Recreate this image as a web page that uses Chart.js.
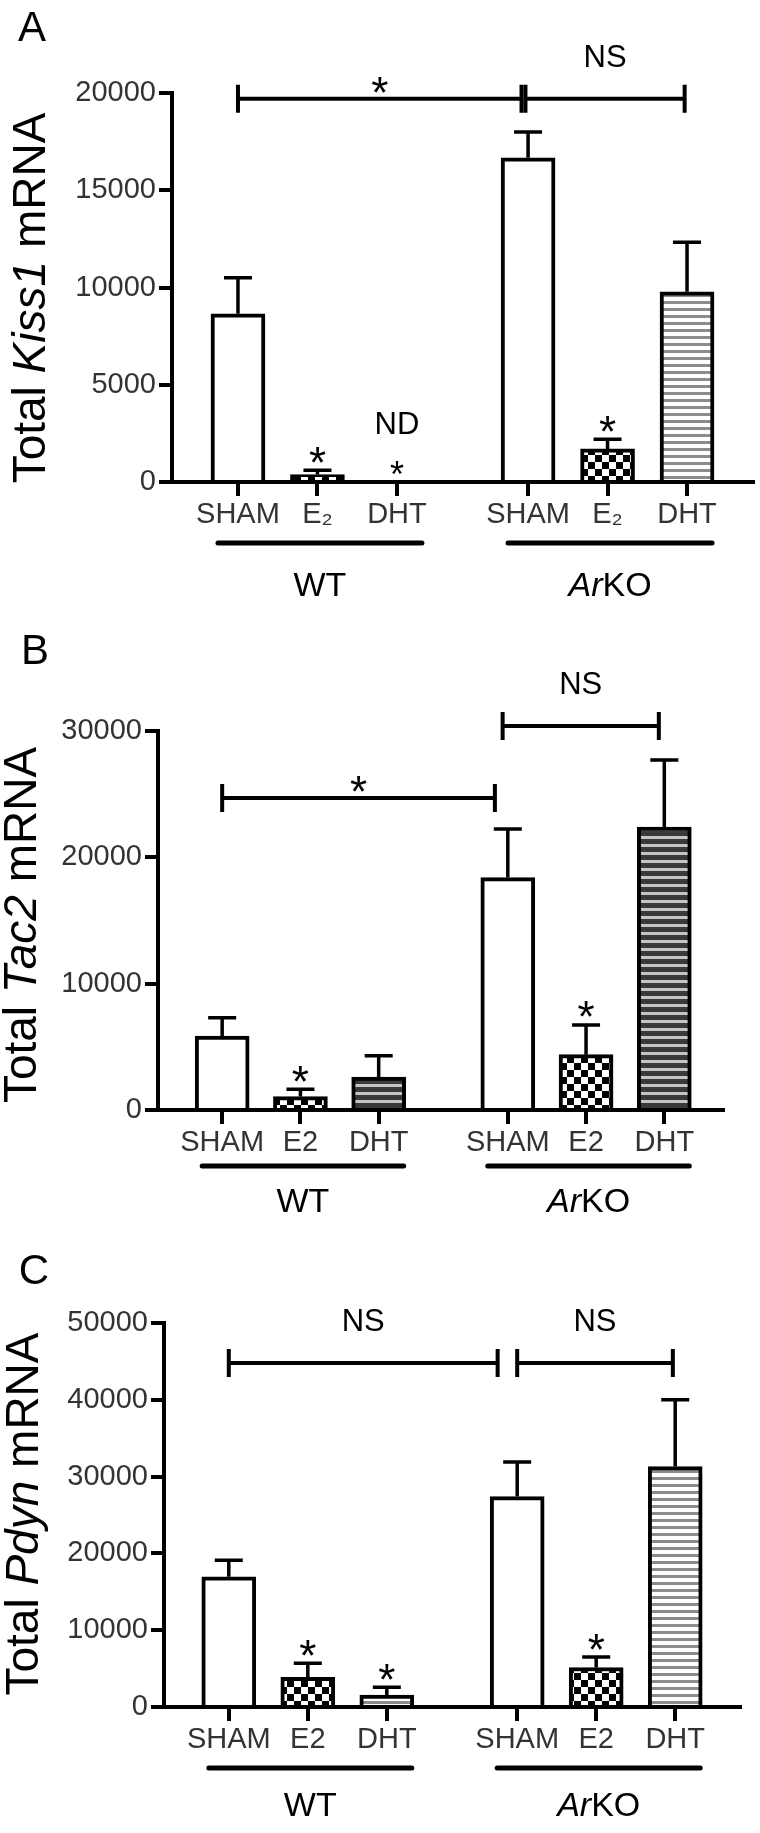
<!DOCTYPE html>
<html lang="en">
<head>
<meta charset="UTF-8">
<title>Total Kiss1, Tac2 and Pdyn mRNA</title>
<script src="https://cdn.jsdelivr.net/npm/chart.js@4.4.0/dist/chart.umd.min.js"></script>
<style>
  body { margin: 0; background: #fff; }
  .panel { position: absolute; left: 0; width: 760px; }
  canvas { display: block; }
</style>
</head>
<body>
<div class="panel" style="top:0"><canvas id="chartA" width="760" height="615"></canvas></div>
<div class="panel" style="top:615px"><canvas id="chartB" width="760" height="610"></canvas></div>
<div class="panel" style="top:1225px"><canvas id="chartC" width="760" height="608"></canvas></div>
<script>
// ---- data ----
const treatments = ['SHAM', 'E2', 'DHT'];
const treatmentsA = ['SHAM', 'E₂', 'DHT'];
const genotypes = ['WT', 'ArKO'];

// bars: WT SHAM, WT E2, WT DHT, ArKO SHAM, ArKO E2, ArKO DHT
const kiss1Mean = [8650, 380, null, 16670, 1700, 9780];
const kiss1Sem  = [1850, 220, null, 1330, 500, 2550];
const tac2Mean  = [5850, 1060, 2600, 18400, 4380, 22400];
const tac2Sem   = [1450, 580, 1700, 3850, 2350, 5300];
const pdynMean  = [16960, 3850, 1540, 27400, 5140, 31300];
const pdynSem   = [2140, 1850, 1030, 4500, 1360, 8700];

const kiss1Ticks = [0, 5000, 10000, 15000, 20000];
const tac2Ticks  = [0, 10000, 20000, 30000];
const pdynTicks  = [0, 10000, 20000, 30000, 40000, 50000];

// significance marks over bars
const kiss1Stars = ['', '*', '*', '', '*', ''];
const tac2Stars  = ['', '*', '', '', '*', ''];
const pdynStars  = ['', '*', '*', '', '*', ''];

// comparison brackets: from bar, to bar, height, label
const kiss1Brackets = [[0, 2.95, 19700, '*'], [2.98, 4.97, 19700, 'NS']];
const tac2Brackets  = [[0, 2.90, 24700, '*'], [2.96, 4.93, 30400, 'NS']];
const pdynBrackets  = [[0, 2.85, 44800, 'NS'], [3.0, 4.97, 44800, 'NS']];

// ---- drawing ----
const SANS = '"Liberation Sans", Arial, sans-serif';

// bar index -> x value (gap between the two genotype groups)
function slot(i) {
    if (i <= 2) return i;
    if (i >= 3) return i + 0.65;
    return 2 + (i - 2) * 1.65;
}

function checker(cell) {
    const c = document.createElement('canvas');
    c.width = c.height = cell * 2;
    const g = c.getContext('2d');
    g.fillStyle = '#fff';
    g.fillRect(0, 0, cell * 2, cell * 2);
    g.fillStyle = '#000';
    g.fillRect(0, 0, cell, cell);
    g.fillRect(cell, cell, cell, cell);
    return g.createPattern(c, 'repeat');
}

function stripes(period, line, bg, fg) {
    const c = document.createElement('canvas');
    c.width = 8; c.height = period;
    const g = c.getContext('2d');
    g.fillStyle = bg;
    g.fillRect(0, 0, 8, period);
    g.fillStyle = fg;
    g.fillRect(0, 0, 8, line);
    return g.createPattern(c, 'repeat');
}

const checks = checker(7);
const lightStripes = stripes(7, 3, '#fff', '#8c8c8c');
const darkStripes = stripes(8, 5, '#c4c4c4', '#3a3a3a');

function measureParts(ctx, parts, size) {
    const fonts = parts.map(p => (p[1] ? 'italic ' : '') + size + 'px ' + SANS);
    let total = 0;
    const widths = parts.map((p, i) => {
        ctx.font = fonts[i];
        const w = ctx.measureText(p[0]).width;
        total += w;
        return w;
    });
    return { fonts, widths, total };
}

// rotated axis title with an italic gene name
function drawTitle(ctx, parts, cx, cy, size) {
    ctx.save();
    ctx.translate(cx, cy);
    ctx.rotate(-Math.PI / 2);
    ctx.textBaseline = 'middle';
    ctx.textAlign = 'left';
    const m = measureParts(ctx, parts, size);
    let x = -m.total / 2;
    parts.forEach((p, i) => {
        ctx.font = m.fonts[i];
        ctx.fillText(p[0], x, 0);
        x += m.widths[i];
    });
    ctx.restore();
}

function drawMixed(ctx, parts, cx, y, size) {
    ctx.save();
    ctx.textBaseline = 'middle';
    ctx.textAlign = 'left';
    const m = measureParts(ctx, parts, size);
    let x = cx - m.total / 2;
    parts.forEach((p, i) => {
        ctx.font = m.fonts[i];
        ctx.fillText(p[0], x, y);
        x += m.widths[i];
    });
    ctx.restore();
}

function star(ctx, x, cy, size) {
    ctx.font = size + 'px ' + SANS;
    ctx.textAlign = 'center';
    ctx.textBaseline = 'alphabetic';
    ctx.fillText('*', x, cy + 0.58 * size);
}

function panelPlugin(cfg) {
    return {
        id: 'panel' + cfg.letter,
        afterDatasetsDraw(chart) {
            const ctx = chart.ctx, xs = chart.scales.x, ys = chart.scales.y;
            const zero = ys.getPixelForValue(0);
            ctx.save();
            ctx.strokeStyle = '#000';
            ctx.fillStyle = '#000';

            // error bars (upper only)
            cfg.mean.forEach((m, i) => {
                if (m == null) return;
                const x = xs.getPixelForValue(slot(i));
                const y0 = ys.getPixelForValue(m);
                const y1 = ys.getPixelForValue(m + cfg.sem[i]);
                ctx.lineWidth = 3.5;
                ctx.beginPath();
                ctx.moveTo(x, y0); ctx.lineTo(x, y1);
                ctx.moveTo(x - 14, y1); ctx.lineTo(x + 14, y1);
                ctx.stroke();
            });

            // stars over bars
            cfg.stars.forEach((s, i) => {
                if (!s) return;
                const x = xs.getPixelForValue(slot(i));
                const m = cfg.mean[i];
                if (m == null) {
                    star(ctx, x, zero - 16, 36);
                    return;
                }
                star(ctx, x, ys.getPixelForValue(m + cfg.sem[i]) - 18, 44);
            });
            (cfg.notes || []).forEach((s, i) => {
                if (!s) return;
                ctx.font = '31px ' + SANS;
                ctx.textAlign = 'center';
                ctx.textBaseline = 'middle';
                ctx.fillText(s, xs.getPixelForValue(slot(i)), zero - 57);
            });

            // brackets
            cfg.brackets.forEach(b => {
                const x1 = xs.getPixelForValue(slot(b[0]));
                const x2 = xs.getPixelForValue(slot(b[1]));
                const y = ys.getPixelForValue(b[2]);
                ctx.lineWidth = 4;
                ctx.beginPath();
                ctx.moveTo(x1, y); ctx.lineTo(x2, y);
                ctx.moveTo(x1, y - 14); ctx.lineTo(x1, y + 14);
                ctx.moveTo(x2, y - 14); ctx.lineTo(x2, y + 14);
                ctx.stroke();
                const cx = (x1 + x2) / 2;
                if (b[3] === '*') {
                    star(ctx, cx, y - 16, 44);
                } else {
                    ctx.font = '31px ' + SANS;
                    ctx.textAlign = 'center';
                    ctx.textBaseline = 'middle';
                    ctx.fillText(b[3], cx, y - 40);
                }
            });

            // genotype underlines and names
            genotypes.forEach((gname, g) => {
                const a = xs.getPixelForValue(slot(g * 3));
                const z = xs.getPixelForValue(slot(g * 3 + 2));
                const y = zero + cfg.lineOff;
                ctx.lineWidth = 5;
                ctx.lineCap = 'round';
                ctx.beginPath();
                ctx.moveTo(a - 20, y); ctx.lineTo(z + 25, y);
                ctx.stroke();
                const parts = gname === 'ArKO' ? [['Ar', true], ['KO', false]] : [[gname, false]];
                drawMixed(ctx, parts, (a - 20 + z + 25) / 2, zero + cfg.nameOff, 34);
            });

            // y title and panel letter
            drawTitle(ctx, [['Total ', false], [cfg.gene, true], [' mRNA', false]],
                cfg.titleX, cfg.titleY, 46);
            ctx.font = '42px ' + SANS;
            ctx.textAlign = 'center';
            ctx.textBaseline = 'middle';
            ctx.fillText(cfg.letter, cfg.letterX, cfg.letterY);
            ctx.restore();
        }
    };
}

function makePanel(id, cfg) {
    const fills = [ '#fff', checks, cfg.dhtFill, '#fff', checks, cfg.dhtFill ];
    const labels = cfg.labels.concat(cfg.labels);
    new Chart(document.getElementById(id), {
        type: 'bar',
        data: {
            datasets: [{
                data: cfg.mean.map((v, i) => ({ x: slot(i), y: v })),
                backgroundColor: fills,
                borderColor: '#000',
                borderWidth: 4,
                borderSkipped: 'start',
                barThickness: 54
            }]
        },
        options: {
            responsive: false,
            animation: false,
            devicePixelRatio: 1,
            layout: { padding: { top: cfg.top, right: 760 - cfg.right, left: 0, bottom: 0 } },
            plugins: { legend: { display: false }, tooltip: { enabled: false } },
            scales: {
                x: {
                    type: 'linear',
                    min: cfg.xMin,
                    max: cfg.xMax,
                    offset: false,
                    afterBuildTicks: ax => { ax.ticks = cfg.mean.map((v, i) => ({ value: slot(i) })); },
                    afterFit: ax => { ax.height = cfg.height - cfg.zero; },
                    grid: { offset: false, drawOnChartArea: false, drawTicks: true, tickLength: 14, lineWidth: 4, color: '#000' },
                    border: { display: true, color: '#000', width: 4 },
                    ticks: {
                        autoSkip: false, maxRotation: 0, padding: 2, color: '#333',
                        font: { family: SANS, size: 29 },
                        callback: (v, i) => labels[i]
                    }
                },
                y: {
                    min: 0,
                    max: cfg.ticks[cfg.ticks.length - 1],
                    afterBuildTicks: ax => { ax.ticks = cfg.ticks.map(v => ({ value: v })); },
                    afterFit: ax => { ax.width = cfg.left; },
                    grid: { drawOnChartArea: false, drawTicks: true, tickLength: 13, lineWidth: 4, color: '#000' },
                    border: { display: true, color: '#000', width: 4 },
                    ticks: {
                        padding: 3, color: '#333',
                        font: { family: SANS, size: 29 },
                        callback: v => String(v)
                    }
                }
            }
        },
        plugins: [panelPlugin(cfg)]
    });
}

makePanel('chartA', {
    letter: 'A', gene: 'Kiss1', labels: treatmentsA,
    mean: kiss1Mean, sem: kiss1Sem, ticks: kiss1Ticks,
    stars: kiss1Stars, notes: ['', '', 'ND', '', '', ''], brackets: kiss1Brackets,
    dhtFill: lightStripes,
    height: 615, top: 93, zero: 482, left: 172, right: 753, xMin: -0.83, xMax: 6.48,
    lineOff: 61, nameOff: 105, titleX: 32, titleY: 298, letterX: 32, letterY: 29
});

makePanel('chartB', {
    letter: 'B', gene: 'Tac2', labels: treatments,
    mean: tac2Mean, sem: tac2Sem, ticks: tac2Ticks,
    stars: tac2Stars, brackets: tac2Brackets,
    dhtFill: darkStripes,
    height: 610, top: 116, zero: 495, left: 158, right: 723, xMin: -0.82, xMax: 6.40,
    lineOff: 56, nameOff: 93, titleX: 23, titleY: 310, letterX: 35, letterY: 37
});

makePanel('chartC', {
    letter: 'C', gene: 'Pdyn', labels: treatments,
    mean: pdynMean, sem: pdynSem, ticks: pdynTicks,
    stars: pdynStars, brackets: pdynBrackets,
    dhtFill: lightStripes,
    height: 608, top: 98, zero: 482, left: 164, right: 740, xMin: -0.82, xMax: 6.47,
    lineOff: 61, nameOff: 100, titleX: 25, titleY: 289, letterX: 34, letterY: 47
});
</script>
</body>
</html>
